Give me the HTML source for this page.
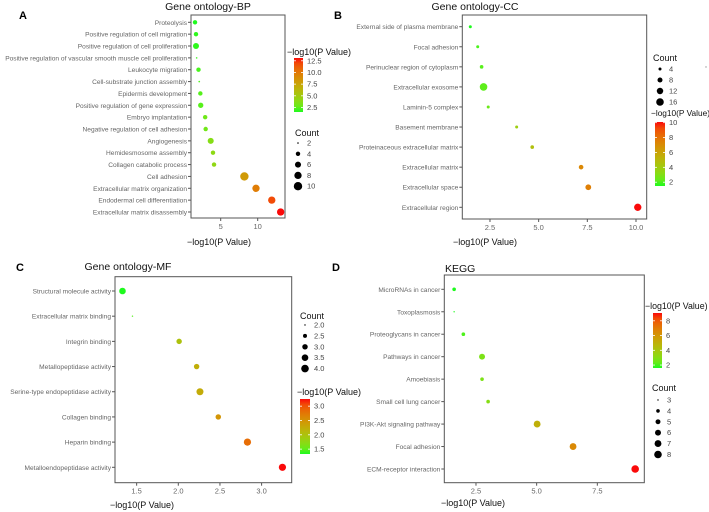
<!DOCTYPE html>
<html><head><meta charset="utf-8"><style>
html,body{margin:0;padding:0;background:#fff;}
svg{display:block;font-family:"Liberation Sans",Arial,sans-serif;}
</style></head><body>
<svg id="chart" width="709" height="512" viewBox="0 0 709 512" xmlns="http://www.w3.org/2000/svg"></svg>
<script>
// ---- Panel A data (GO BP) ----
const bpTerms=["Proteolysis","Positive regulation of cell migration","Positive regulation of cell proliferation","Positive regulation of vascular smooth muscle cell proliferation","Leukocyte migration","Cell-substrate junction assembly","Epidermis development","Positive regulation of gene expression","Embryo implantation","Negative regulation of cell adhesion","Angiogenesis","Hemidesmosome assembly","Collagen catabolic process","Cell adhesion","Extracellular matrix organization","Endodermal cell differentiation","Extracellular matrix disassembly"];
const bpValues=[1.53,1.66,1.66,1.75,2.0,2.1,2.25,2.3,2.9,2.97,3.65,3.96,4.1,8.2,9.77,11.9,13.1];
const bpCounts=[4,4,6,2,4,2,4,5,4,4,6,4,4,10,8,8,8];
const bpXTicks=[5,10];
const bpColorTicks=[2.5,5.0,7.5,10.0,12.5];
const bpCountTicks=[2,4,6,8,10];
// ---- Panel B data (GO CC) ----
const ccTerms=["External side of plasma membrane","Focal adhesion","Perinuclear region of cytoplasm","Extracellular exosome","Laminin-5 complex","Basement membrane","Proteinaceous extracellular matrix","Extracellular matrix","Extracellular space","Extracellular region"];
const ccValues=[1.49,1.87,2.07,2.17,2.41,3.87,4.67,7.18,7.55,10.09];
const ccCounts=[4,4,5,16,2,4,5,7,10,15];
const ccXTicks=[2.5,5.0,7.5,10.0];
const ccColorTicks=[2,4,6,8,10];
const ccCountTicks=[4,8,12,16];
// ---- Panel C data (GO MF) ----
const mfTerms=["Structural molecule activity","Extracellular matrix binding","Integrin binding","Metallopeptidase activity","Serine-type endopeptidase activity","Collagen binding","Heparin binding","Metalloendopeptidase activity"];
const mfValues=[1.33,1.45,2.01,2.22,2.26,2.48,2.83,3.25];
const mfCounts=[3.5,2,3,3,3.7,3,3.8,3.8];
const mfXTicks=[1.5,2.0,2.5,3.0];
const mfColorTicks=[1.5,2.0,2.5,3.0];
const mfCountTicks=[2.0,2.5,3.0,3.5,4.0];
// ---- Panel D data (KEGG) ----
const keggTerms=["MicroRNAs in cancer","Toxoplasmosis","Proteoglycans in cancer","Pathways in cancer","Amoebiasis","Small cell lung cancer","PI3K-Akt signaling pathway","Focal adhesion","ECM-receptor interaction"];
const keggValues=[1.6,1.6,1.98,2.75,2.75,3.0,5.02,6.5,9.06];
const keggCounts=[4,3,4,6,4,4,7,7,8];
const keggXTicks=[2.5,5.0,7.5];
const keggColorTicks=[2,4,6,8];
const keggCountTicks=[3,4,5,6,7,8];

const NS="http://www.w3.org/2000/svg";
const svg=document.getElementById('chart');
function mk(tag,attrs,parent){const e=document.createElementNS(NS,tag);for(const k in attrs)e.setAttribute(k,attrs[k]);(parent||svg).appendChild(e);return e;}
function txt(s,attrs,parent){const e=mk('text',attrs,parent);e.textContent=s;return e;}

function s2l(c){c/=255;return c<=0.04045?c/12.92:Math.pow((c+0.055)/1.055,2.4);}
function l2s(c){c=c<=0.0031308?12.92*c:1.055*Math.pow(c,1/2.4)-0.055;return Math.max(0,Math.min(255,Math.round(c*255)));}
function toLab(r,g,b){r=s2l(r);g=s2l(g);b=s2l(b);let x=(r*0.4124+g*0.3576+b*0.1805)/0.95047,y=r*0.2126+g*0.7152+b*0.0722,z=(r*0.0193+g*0.1192+b*0.9505)/1.08883;const f=t=>t>0.008856?Math.cbrt(t):7.787*t+16/116;x=f(x);y=f(y);z=f(z);return[116*y-16,500*(x-y),200*(y-z)];}
function fromLab(L,a,b){let y=(L+16)/116,x=a/500+y,z=y-b/200;const fi=t=>t*t*t>0.008856?t*t*t:(t-16/116)/7.787;x=fi(x)*0.95047;y=fi(y);z=fi(z)*1.08883;const r=x*3.2406+y*-1.5372+z*-0.4986,g=x*-0.9689+y*1.8758+z*0.0415,bb=x*0.0557+y*-0.2040+z*1.0570;return 'rgb('+l2s(r)+','+l2s(g)+','+l2s(bb)+')';}
const LOW=toLab(30,250,30),HIGH=toLab(250,10,10);
function colorAt(t){t=Math.max(0,Math.min(1,t));return fromLab(LOW[0]+(HIGH[0]-LOW[0])*t,LOW[1]+(HIGH[1]-LOW[1])*t,LOW[2]+(HIGH[2]-LOW[2])*t);}

let gid=0;
function panel(cfg){
  const g=mk('g',{});
  
  
  const xs=v=>cfg.x0+v*cfg.ppu;
  const ys=i=>cfg.yFirst+i*(cfg.yLast-cfg.yFirst)/(cfg.terms.length-1);
  const vmin=Math.min(...cfg.values),vmax=Math.max(...cfg.values);
  const cmin=Math.min(...cfg.countTicks),cmax=Math.max(...cfg.countTicks);
  const rs=c=>Math.sqrt(cfg.r0*cfg.r0+Math.max(0,(c-cmin)/(cmax-cmin))*(cfg.r1*cfg.r1-cfg.r0*cfg.r0));
  if(cfg.letter){const l=txt(cfg.letter,{x:cfg.letterX,y:cfg.letterY,'font-size':11,'font-weight':'bold',fill:'#000'},g);}
  const t=txt(cfg.title,{x:cfg.titleX,y:cfg.titleY,'font-size':10.5,fill:'#111','text-anchor':cfg.titleAnchor||'middle'},g);
  
  const box=mk('rect',{x:cfg.bx0,y:cfg.by0,width:cfg.bx1-cfg.bx0,height:cfg.by1-cfg.by0,fill:'none',stroke:'#555','stroke-width':1},g);
  
  cfg.terms.forEach((s,i)=>{const y=ys(i);
    mk('line',{x1:cfg.bx0-3,x2:cfg.bx0,y1:y,y2:y,stroke:'#555','stroke-width':1},g);
    const e=txt(s,{x:cfg.bx0-4,y:y+2.5,'font-size':cfg.fs,fill:'#666','text-anchor':'end'},g);
    });
  cfg.xTicks.forEach(v=>{const x=xs(v);
    mk('line',{x1:x,x2:x,y1:cfg.by1,y2:cfg.by1+3,stroke:'#555','stroke-width':1},g);
    const e=txt(cfg.xFmt(v),{x:x,y:cfg.by1+11,'font-size':7.5,fill:'#666','text-anchor':'middle'},g);
    });
  const xl=txt('\u2212log10(P Value)',{x:cfg.xlabX,y:cfg.xlabY,'font-size':9,fill:'#111','text-anchor':'middle'},g);
  
  cfg.terms.forEach((s,i)=>{
    const c=mk('circle',{cx:xs(cfg.values[i]),cy:ys(i),r:rs(cfg.counts[i]),fill:colorAt((cfg.values[i]-vmin)/(vmax-vmin))},g);
    
    
  });
  const id='grad'+(gid++);
  const defs=mk('defs',{},g);const lg=mk('linearGradient',{id:id,x1:0,y1:1,x2:0,y2:0},defs);
  for(let k=0;k<=10;k++)mk('stop',{offset:k/10,'stop-color':colorAt(k/10)},lg);
  const ct=txt('\u2212log10(P Value)',{x:cfg.cbTitleX,y:cfg.cbTitleY,'font-size':cfg.cbTitleFs||9,fill:'#111'},g);
  
  const cb=mk('rect',{x:cfg.cbx,y:cfg.cby0,width:cfg.cbw,height:cfg.cby1-cfg.cby0,fill:'url(#'+id+')'},g);
  
  const cs=v=>cfg.cby1-(v-vmin)/(vmax-vmin)*(cfg.cby1-cfg.cby0);
  cfg.colorTicks.forEach(v=>{const y=cs(v);if(y<cfg.cby0-1||y>cfg.cby1+1)return;
    mk('line',{x1:cfg.cbx,x2:cfg.cbx+2,y1:y,y2:y,stroke:'#fff','stroke-width':0.8},g);
    mk('line',{x1:cfg.cbx+cfg.cbw-2,x2:cfg.cbx+cfg.cbw,y1:y,y2:y,stroke:'#fff','stroke-width':0.8},g);
    const e=txt(cfg.cFmt(v),{x:cfg.cbx+cfg.cbw+4,y:y+2.5,'font-size':7.5,fill:'#444'},g);
    });
  const ctt=txt('Count',{x:cfg.clX,y:cfg.clY,'font-size':9,fill:'#111'},g);
  
  cfg.countTicks.forEach((v,k)=>{const y=cfg.clY0+k*cfg.clStep;
    const c=mk('circle',{cx:cfg.clDotX,cy:y,r:rs(v),fill:'#000'},g);
    
    const e=txt(cfg.nFmt(v),{x:cfg.clDotX+9,y:y+2.5,'font-size':7.5,fill:'#444'},g);
    });
}
const f0=v=>String(v),f1=v=>v.toFixed(1);
panel({name:'panel-bp',letter:'A',letterX:19,letterY:19,title:'Gene ontology-BP',titleX:208,titleY:10,
  terms:bpTerms,values:bpValues,counts:bpCounts,xTicks:bpXTicks,colorTicks:bpColorTicks,countTicks:bpCountTicks,
  bx0:191,bx1:285,by0:15,by1:218,yFirst:22.3,yLast:212,x0:183.7,ppu:7.4,fs:6.6,r0:0.8,r1:4.2,
  xFmt:f0,cFmt:f1,nFmt:f0,xlabX:219,xlabY:245,
  cbTitleX:287,cbTitleY:55,cbx:294,cbw:9,cby0:58,cby1:112,
  clX:295,clY:136,clY0:143,clStep:10.8,clDotX:298});
panel({name:'panel-cc',letter:'B',letterX:334,letterY:19,title:'Gene ontology-CC',titleX:475,titleY:10,
  terms:ccTerms,values:ccValues,counts:ccCounts,xTicks:ccXTicks,colorTicks:ccColorTicks,countTicks:ccCountTicks,
  bx0:462.3,bx1:646.7,by0:15,by1:219,yFirst:26.7,yLast:207.3,x0:441.3,ppu:19.47,fs:6.6,r0:1.5,r1:3.8,
  xFmt:f1,cFmt:f0,nFmt:f0,xlabX:485,xlabY:245,
  cbTitleX:651,cbTitleY:116,cbTitleFs:8.3,cbx:655,cbw:10,cby0:122,cby1:186,
  clX:653,clY:61,clY0:69,clStep:11,clDotX:660});
panel({name:'panel-mf',letter:'C',letterX:16,letterY:271,title:'Gene ontology-MF',titleX:128,titleY:270,
  terms:mfTerms,values:mfValues,counts:mfCounts,xTicks:mfXTicks,colorTicks:mfColorTicks,countTicks:mfCountTicks,
  bx0:115,bx1:291.7,by0:276.7,by1:482.7,yFirst:291,yLast:467.3,x0:11.7,ppu:83.3,fs:6.6,r0:0.7,r1:3.8,
  xFmt:f1,cFmt:f1,nFmt:f1,xlabX:142,xlabY:508,
  cbTitleX:297,cbTitleY:395,cbx:300,cbw:10,cby0:399,cby1:454,
  clX:300,clY:319,clY0:325,clStep:10.9,clDotX:305});
panel({name:'panel-kegg',letter:'D',letterX:332,letterY:271,title:'KEGG',titleX:445,titleY:272,titleAnchor:'start',
  terms:keggTerms,values:keggValues,counts:keggCounts,xTicks:keggXTicks,colorTicks:keggColorTicks,countTicks:keggCountTicks,
  bx0:444.3,bx1:644.3,by0:275,by1:482.7,yFirst:289.3,yLast:469,x0:415.3,ppu:24.27,fs:6.6,r0:0.7,r1:3.8,
  xFmt:f1,cFmt:f0,nFmt:f0,xlabX:473,xlabY:506,
  cbTitleX:645,cbTitleY:309,cbTitleFs:8.8,cbx:653,cbw:9,cby0:313,cby1:368,
  clX:652,clY:391,clY0:400,clStep:10.9,clDotX:658});
const stray=mk('circle',{cx:706,cy:67,r:0.7,fill:'#999'});


</script>
</body></html>
